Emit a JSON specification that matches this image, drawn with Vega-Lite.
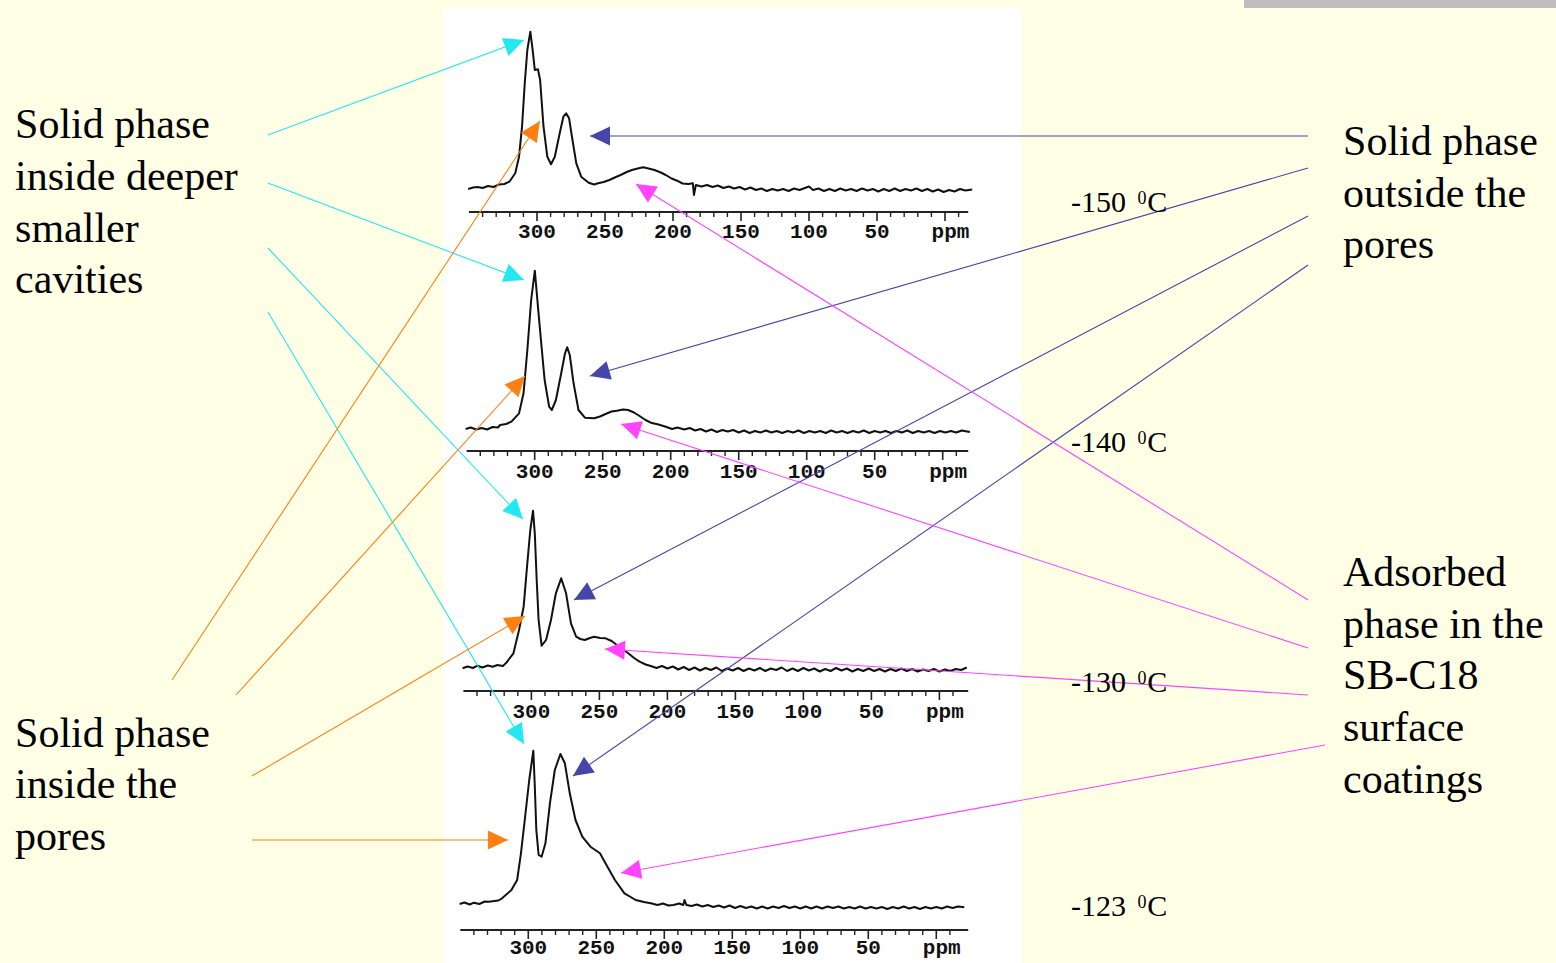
{
  "$schema": "https://vega.github.io/schema/vega-lite/v6.json",
  "width": 1556,
  "height": 963,
  "autosize": {"type": "fit", "contains": "padding"},
  "padding": 0,
  "background": "#FFFFE6",
  "config": {"view": {"stroke": null}},
  "datasets": {
    "spec": [
      {"t":"-150","p":350.6,"s":774},{"t":"-150","p":347,"s":775.5},{"t":"-150","p":343.7,"s":776},{"t":"-150","p":340,"s":775},{"t":"-150","p":336,"s":777},{"t":"-150","p":332,"s":776},{"t":"-150","p":328,"s":778.5},{"t":"-150","p":324,"s":779},{"t":"-150","p":320.3,"s":781.3},{"t":"-150","p":316,"s":789.7},{"t":"-150","p":313.2,"s":806.3},{"t":"-150","p":311,"s":836.3},{"t":"-150","p":309,"s":879.7},{"t":"-150","p":307.1,"s":913},{"t":"-150","p":304.9,"s":931.3},{"t":"-150","p":303.2,"s":913},{"t":"-150","p":301.6,"s":893},{"t":"-150","p":299.3,"s":893.7},{"t":"-150","p":297.7,"s":883},{"t":"-150","p":295.2,"s":836.3},{"t":"-150","p":292.4,"s":806.3},{"t":"-150","p":289.7,"s":798.7},{"t":"-150","p":286.9,"s":806.3},{"t":"-150","p":283.3,"s":829.7},{"t":"-150","p":280.6,"s":846.3},{"t":"-150","p":278.6,"s":849.7},{"t":"-150","p":276.4,"s":844.7},{"t":"-150","p":273.9,"s":823},{"t":"-150","p":271.1,"s":799.7},{"t":"-150","p":267.5,"s":786.3},{"t":"-150","p":262,"s":780.3},{"t":"-150","p":258,"s":778.5},{"t":"-150","p":255.1,"s":779.7},{"t":"-150","p":251,"s":781},{"t":"-150","p":246.8,"s":783},{"t":"-150","p":242,"s":786},{"t":"-150","p":238.5,"s":788},{"t":"-150","p":234,"s":791},{"t":"-150","p":230.2,"s":793},{"t":"-150","p":226,"s":794.5},{"t":"-150","p":221.9,"s":795.7},{"t":"-150","p":218,"s":794.5},{"t":"-150","p":213.6,"s":793},{"t":"-150","p":209,"s":790.5},{"t":"-150","p":205.3,"s":788},{"t":"-150","p":201,"s":784.5},{"t":"-150","p":197,"s":782.3},{"t":"-150","p":193,"s":779.5},{"t":"-150","p":188.7,"s":779},{"t":"-150","p":185.4,"s":779.7},{"t":"-150","p":184.6,"s":768},{"t":"-150","p":183.2,"s":778},{"t":"-150","p":179,"s":776.5},{"t":"-150","p":175,"s":778},{"t":"-150","p":171,"s":776},{"t":"-150","p":167,"s":777.5},{"t":"-150","p":163,"s":775},{"t":"-150","p":159,"s":776.5},{"t":"-150","p":155,"s":774.5},{"t":"-150","p":151,"s":776},{"t":"-150","p":147,"s":773.5},{"t":"-150","p":143,"s":775.5},{"t":"-150","p":139,"s":773},{"t":"-150","p":135,"s":774.5},{"t":"-150","p":131,"s":772},{"t":"-150","p":127,"s":774},{"t":"-150","p":123,"s":772.5},{"t":"-150","p":119,"s":774},{"t":"-150","p":115,"s":772},{"t":"-150","p":111,"s":774.5},{"t":"-150","p":107,"s":773},{"t":"-150","p":103,"s":775},{"t":"-150","p":100,"s":776.5},{"t":"-150","p":97,"s":773},{"t":"-150","p":93,"s":774.5},{"t":"-150","p":89,"s":772},{"t":"-150","p":85,"s":774},{"t":"-150","p":81,"s":772},{"t":"-150","p":77,"s":774.5},{"t":"-150","p":73,"s":772.5},{"t":"-150","p":69,"s":774},{"t":"-150","p":65,"s":772},{"t":"-150","p":61,"s":774.5},{"t":"-150","p":57,"s":772.5},{"t":"-150","p":53,"s":774},{"t":"-150","p":49,"s":771.5},{"t":"-150","p":45,"s":774},{"t":"-150","p":41,"s":772},{"t":"-150","p":37,"s":774.5},{"t":"-150","p":33,"s":772},{"t":"-150","p":29,"s":774},{"t":"-150","p":25,"s":772.5},{"t":"-150","p":21,"s":774.5},{"t":"-150","p":17,"s":772},{"t":"-150","p":13,"s":774},{"t":"-150","p":9,"s":771.5},{"t":"-150","p":5,"s":773.5},{"t":"-150","p":1,"s":771},{"t":"-150","p":-3,"s":773},{"t":"-150","p":-7,"s":771.5},{"t":"-150","p":-11,"s":774},{"t":"-150","p":-15,"s":772.5},{"t":"-150","p":-20,"s":773.5},

      {"t":"-140","p":350.8,"s":534},{"t":"-140","p":347,"s":535.5},{"t":"-140","p":343,"s":533.5},{"t":"-140","p":339,"s":535},{"t":"-140","p":335,"s":533.5},{"t":"-140","p":331,"s":536},{"t":"-140","p":327,"s":535.5},{"t":"-140","p":325.4,"s":538},{"t":"-140","p":321,"s":539},{"t":"-140","p":317.1,"s":541.3},{"t":"-140","p":311.5,"s":549.7},{"t":"-140","p":308.2,"s":569.7},{"t":"-140","p":305.4,"s":613},{"t":"-140","p":302.6,"s":663},{"t":"-140","p":299.9,"s":692.3},{"t":"-140","p":297.6,"s":656.3},{"t":"-140","p":295.4,"s":623},{"t":"-140","p":292.7,"s":583},{"t":"-140","p":289.4,"s":556.3},{"t":"-140","p":287.4,"s":553},{"t":"-140","p":284.4,"s":563},{"t":"-140","p":280.5,"s":589.7},{"t":"-140","p":277.7,"s":609.7},{"t":"-140","p":276.1,"s":615.7},{"t":"-140","p":274.2,"s":608},{"t":"-140","p":271.4,"s":579.7},{"t":"-140","p":267.8,"s":553},{"t":"-140","p":263.1,"s":545.3},{"t":"-140","p":256.2,"s":544.7},{"t":"-140","p":252,"s":546.5},{"t":"-140","p":247.9,"s":549},{"t":"-140","p":243.5,"s":551.5},{"t":"-140","p":239.6,"s":552.3},{"t":"-140","p":235,"s":553.5},{"t":"-140","p":231.3,"s":553},{"t":"-140","p":227,"s":550.5},{"t":"-140","p":222.9,"s":547},{"t":"-140","p":218.5,"s":543},{"t":"-140","p":214.6,"s":540.3},{"t":"-140","p":209,"s":538.5},{"t":"-140","p":203.6,"s":536.3},{"t":"-140","p":199,"s":534},{"t":"-140","p":195,"s":535.5},{"t":"-140","p":190,"s":533.5},{"t":"-140","p":186,"s":535},{"t":"-140","p":182,"s":532.5},{"t":"-140","p":178,"s":534},{"t":"-140","p":174,"s":531.5},{"t":"-140","p":170,"s":533.5},{"t":"-140","p":166,"s":531},{"t":"-140","p":162,"s":533},{"t":"-140","p":158,"s":531.5},{"t":"-140","p":154,"s":533},{"t":"-140","p":150,"s":530.5},{"t":"-140","p":146,"s":532.5},{"t":"-140","p":142,"s":530},{"t":"-140","p":138,"s":532},{"t":"-140","p":134,"s":530.5},{"t":"-140","p":130,"s":532.5},{"t":"-140","p":126,"s":530.5},{"t":"-140","p":122,"s":532},{"t":"-140","p":118,"s":530},{"t":"-140","p":114,"s":532},{"t":"-140","p":110,"s":530.5},{"t":"-140","p":106,"s":532.5},{"t":"-140","p":102,"s":530},{"t":"-140","p":98,"s":532},{"t":"-140","p":94,"s":530.5},{"t":"-140","p":90,"s":532},{"t":"-140","p":86,"s":530},{"t":"-140","p":82,"s":532.5},{"t":"-140","p":78,"s":530.5},{"t":"-140","p":74,"s":532},{"t":"-140","p":70,"s":530},{"t":"-140","p":66,"s":532},{"t":"-140","p":62,"s":530.5},{"t":"-140","p":58,"s":532.5},{"t":"-140","p":54,"s":530},{"t":"-140","p":50,"s":532},{"t":"-140","p":46,"s":530.5},{"t":"-140","p":42,"s":532},{"t":"-140","p":38,"s":530},{"t":"-140","p":34,"s":532},{"t":"-140","p":30,"s":530.5},{"t":"-140","p":26,"s":532.5},{"t":"-140","p":22,"s":530},{"t":"-140","p":18,"s":532},{"t":"-140","p":14,"s":530.5},{"t":"-140","p":10,"s":532},{"t":"-140","p":6,"s":530},{"t":"-140","p":2,"s":532},{"t":"-140","p":-2,"s":530.5},{"t":"-140","p":-6,"s":532},{"t":"-140","p":-10,"s":530.5},{"t":"-140","p":-14,"s":532.5},{"t":"-140","p":-20,"s":531},

      {"t":"-130","p":350.6,"s":294.7},{"t":"-130","p":347,"s":296.5},{"t":"-130","p":343,"s":295},{"t":"-130","p":339.6,"s":297.3},{"t":"-130","p":336,"s":295.5},{"t":"-130","p":332,"s":297.5},{"t":"-130","p":328.5,"s":296.3},{"t":"-130","p":325,"s":298},{"t":"-130","p":321,"s":297},{"t":"-130","p":318.8,"s":299.7},{"t":"-130","p":313.2,"s":309.7},{"t":"-130","p":309.1,"s":333},{"t":"-130","p":305.7,"s":356.3},{"t":"-130","p":303,"s":399.7},{"t":"-130","p":300.8,"s":433},{"t":"-130","p":298.8,"s":452.3},{"t":"-130","p":297.5,"s":429.7},{"t":"-130","p":296.1,"s":383},{"t":"-130","p":294.7,"s":343},{"t":"-130","p":292.5,"s":317.3},{"t":"-130","p":289.2,"s":323},{"t":"-130","p":285.6,"s":343},{"t":"-130","p":282,"s":369.7},{"t":"-130","p":278.1,"s":384.7},{"t":"-130","p":274.5,"s":369.7},{"t":"-130","p":270.9,"s":339.7},{"t":"-130","p":267.1,"s":326.3},{"t":"-130","p":264,"s":324},{"t":"-130","p":260.7,"s":323},{"t":"-130","p":257,"s":325},{"t":"-130","p":253.8,"s":326.3},{"t":"-130","p":249.5,"s":325},{"t":"-130","p":245.4,"s":324.7},{"t":"-130","p":241,"s":322},{"t":"-130","p":237.1,"s":318},{"t":"-130","p":233,"s":314},{"t":"-130","p":228.8,"s":309.7},{"t":"-130","p":224.5,"s":305},{"t":"-130","p":220.5,"s":301.3},{"t":"-130","p":216,"s":298.5},{"t":"-130","p":212.2,"s":297},{"t":"-130","p":208,"s":295},{"t":"-130","p":204,"s":297},{"t":"-130","p":200,"s":294.5},{"t":"-130","p":196,"s":296.5},{"t":"-130","p":192,"s":293.5},{"t":"-130","p":188,"s":296},{"t":"-130","p":184,"s":293},{"t":"-130","p":180,"s":295.5},{"t":"-130","p":176,"s":292.5},{"t":"-130","p":172,"s":295},{"t":"-130","p":168,"s":293},{"t":"-130","p":164,"s":295.5},{"t":"-130","p":160,"s":292},{"t":"-130","p":156,"s":294.5},{"t":"-130","p":152,"s":292.5},{"t":"-130","p":148,"s":295},{"t":"-130","p":144,"s":292},{"t":"-130","p":140,"s":294.5},{"t":"-130","p":136,"s":292.5},{"t":"-130","p":132,"s":295},{"t":"-130","p":128,"s":292},{"t":"-130","p":124,"s":294.5},{"t":"-130","p":120,"s":293},{"t":"-130","p":116,"s":295.5},{"t":"-130","p":112,"s":292},{"t":"-130","p":108,"s":294.5},{"t":"-130","p":104,"s":292},{"t":"-130","p":100,"s":295},{"t":"-130","p":96,"s":292.5},{"t":"-130","p":92,"s":294.5},{"t":"-130","p":88,"s":291.5},{"t":"-130","p":84,"s":294},{"t":"-130","p":80,"s":292},{"t":"-130","p":76,"s":295},{"t":"-130","p":72,"s":292.5},{"t":"-130","p":68,"s":294.5},{"t":"-130","p":64,"s":291.5},{"t":"-130","p":60,"s":294},{"t":"-130","p":56,"s":292},{"t":"-130","p":52,"s":294.5},{"t":"-130","p":48,"s":292},{"t":"-130","p":44,"s":294},{"t":"-130","p":40,"s":291.5},{"t":"-130","p":36,"s":294},{"t":"-130","p":32,"s":292},{"t":"-130","p":28,"s":294.5},{"t":"-130","p":24,"s":292},{"t":"-130","p":20,"s":294},{"t":"-130","p":16,"s":291.5},{"t":"-130","p":12,"s":293.5},{"t":"-130","p":8,"s":292},{"t":"-130","p":4,"s":294},{"t":"-130","p":0,"s":291.5},{"t":"-130","p":-4,"s":293.5},{"t":"-130","p":-8,"s":292},{"t":"-130","p":-12,"s":294},{"t":"-130","p":-16,"s":293},{"t":"-130","p":-20.1,"s":295.5},

      {"t":"-123","p":350.5,"s":59},{"t":"-123","p":347,"s":60.5},{"t":"-123","p":343,"s":58.5},{"t":"-123","p":340,"s":60.3},{"t":"-123","p":336,"s":59},{"t":"-123","p":332,"s":61.5},{"t":"-123","p":329,"s":61.3},{"t":"-123","p":325,"s":62},{"t":"-123","p":322,"s":62.5},{"t":"-123","p":319.3,"s":64.7},{"t":"-123","p":312.4,"s":73},{"t":"-123","p":308.2,"s":83},{"t":"-123","p":305.4,"s":109.7},{"t":"-123","p":302.6,"s":143},{"t":"-123","p":299.3,"s":183},{"t":"-123","p":296.3,"s":212.3},{"t":"-123","p":295.2,"s":176.3},{"t":"-123","p":294.1,"s":133},{"t":"-123","p":292.4,"s":108},{"t":"-123","p":290.2,"s":106.3},{"t":"-123","p":287.4,"s":119.7},{"t":"-123","p":284.1,"s":159.7},{"t":"-123","p":280.5,"s":193},{"t":"-123","p":276.4,"s":209},{"t":"-123","p":273.1,"s":199.7},{"t":"-123","p":269.5,"s":169.7},{"t":"-123","p":265.3,"s":143},{"t":"-123","p":260.3,"s":126.3},{"t":"-123","p":254.3,"s":116.3},{"t":"-123","p":247.3,"s":109.7},{"t":"-123","p":241.8,"s":96.3},{"t":"-123","p":236.3,"s":83},{"t":"-123","p":229.3,"s":69.7},{"t":"-123","p":221,"s":63},{"t":"-123","p":215,"s":61},{"t":"-123","p":209.9,"s":59.7},{"t":"-123","p":205,"s":58},{"t":"-123","p":201,"s":59.5},{"t":"-123","p":197,"s":57.5},{"t":"-123","p":193.4,"s":58},{"t":"-123","p":189,"s":59.5},{"t":"-123","p":186,"s":58},{"t":"-123","p":185.1,"s":63},{"t":"-123","p":183.7,"s":58},{"t":"-123","p":180,"s":57},{"t":"-123","p":176,"s":58.5},{"t":"-123","p":172,"s":56.5},{"t":"-123","p":168,"s":58},{"t":"-123","p":164,"s":56},{"t":"-123","p":160,"s":57.5},{"t":"-123","p":156,"s":55.5},{"t":"-123","p":152,"s":57.5},{"t":"-123","p":148,"s":55},{"t":"-123","p":144,"s":57},{"t":"-123","p":140,"s":55},{"t":"-123","p":136,"s":56.5},{"t":"-123","p":132,"s":54.5},{"t":"-123","p":128,"s":56.5},{"t":"-123","p":124,"s":54.5},{"t":"-123","p":120,"s":56.5},{"t":"-123","p":116,"s":55},{"t":"-123","p":112,"s":57},{"t":"-123","p":108,"s":55},{"t":"-123","p":104,"s":56.5},{"t":"-123","p":100,"s":54.5},{"t":"-123","p":96,"s":56.5},{"t":"-123","p":92,"s":54.5},{"t":"-123","p":88,"s":56.5},{"t":"-123","p":84,"s":54.5},{"t":"-123","p":80,"s":56.5},{"t":"-123","p":76,"s":55},{"t":"-123","p":72,"s":56.5},{"t":"-123","p":68,"s":54.5},{"t":"-123","p":64,"s":56},{"t":"-123","p":60,"s":54.5},{"t":"-123","p":56,"s":56.5},{"t":"-123","p":52,"s":54.5},{"t":"-123","p":48,"s":56},{"t":"-123","p":44,"s":54.5},{"t":"-123","p":40,"s":56},{"t":"-123","p":36,"s":54},{"t":"-123","p":32,"s":56},{"t":"-123","p":28,"s":54.5},{"t":"-123","p":24,"s":56.5},{"t":"-123","p":20,"s":54.5},{"t":"-123","p":16,"s":56},{"t":"-123","p":12,"s":54},{"t":"-123","p":8,"s":56},{"t":"-123","p":4,"s":54.5},{"t":"-123","p":0,"s":56},{"t":"-123","p":-4,"s":54.5},{"t":"-123","p":-8,"s":56.5},{"t":"-123","p":-12,"s":55},{"t":"-123","p":-16,"s":56.5},{"t":"-123","p":-20.6,"s":55.7}
    ],
    "major": [{"p":300},{"p":250},{"p":200},{"p":150},{"p":100},{"p":50},{"p":0}],
    "minor": [{"p":340},{"p":330},{"p":320},{"p":310},{"p":290},{"p":280},{"p":270},{"p":260},{"p":240},{"p":230},{"p":220},{"p":210},{"p":190},{"p":180},{"p":170},{"p":160},{"p":140},{"p":130},{"p":120},{"p":110},{"p":90},{"p":80},{"p":70},{"p":60},{"p":40},{"p":30},{"p":20},{"p":10},{"p":-10}],
    "lab": [{"p":300,"t":"300"},{"p":250,"t":"250"},{"p":200,"t":"200"},{"p":150,"t":"150"},{"p":100,"t":"100"},{"p":50,"t":"50"},{"p":-4,"t":"ppm"}],
    "arrows": [
      {"g":"deeper cavities","p0":494.9,"s0":828,"p1":306.6,"s1":923,"a":69.6},
      {"g":"deeper cavities","p0":494.9,"s0":780,"p1":306.6,"s1":683,"a":110.8},
      {"g":"deeper cavities","p0":494.9,"s0":715,"p1":307.4,"s1":444,"a":136.7},
      {"g":"deeper cavities","p0":494.9,"s0":651,"p1":306.6,"s1":219,"a":149.4},
      {"g":"inside pores","p0":565.4,"s0":283,"p1":294.9,"s1":842,"a":33.4},
      {"g":"inside pores","p0":518.4,"s0":268,"p1":305.9,"s1":587,"a":42.2},
      {"g":"inside pores","p0":506.6,"s0":187,"p1":305.9,"s1":347,"a":59.6},
      {"g":"inside pores","p0":506.6,"s0":123,"p1":318.4,"s1":123,"a":90},
      {"g":"outside pores","p0":-269.9,"s0":827,"p1":258.1,"s1":827,"a":-90},
      {"g":"outside pores","p0":-269.9,"s0":795,"p1":258.1,"s1":587,"a":-106.2},
      {"g":"outside pores","p0":-269.9,"s0":747,"p1":269.9,"s1":363,"a":-117.6},
      {"g":"outside pores","p0":-269.9,"s0":698,"p1":270.6,"s1":187,"a":-124.8},
      {"g":"adsorbed","p0":-269.9,"s0":363,"p1":224.3,"s1":779,"a":-58.2},
      {"g":"adsorbed","p0":-269.9,"s0":315,"p1":235.3,"s1":539,"a":-71.9},
      {"g":"adsorbed","p0":-269.9,"s0":268,"p1":247.1,"s1":314,"a":-86.3},
      {"g":"adsorbed","p0":-282.4,"s0":218,"p1":235.3,"s1":90,"a":-100.3}
    ],
    "notes": [
      {"t":"Solid phase","p":680.8,"s":825},{"t":"inside deeper","p":680.8,"s":773},{"t":"smaller","p":680.8,"s":721},{"t":"cavities","p":680.8,"s":670},
      {"t":"Solid phase","p":680.8,"s":216},{"t":"inside the","p":680.8,"s":165},{"t":"pores","p":680.8,"s":113},
      {"t":"Solid phase","p":-295.6,"s":808},{"t":"outside the","p":-295.6,"s":756},{"t":"pores","p":-295.6,"s":705},
      {"t":"Adsorbed","p":-295.6,"s":377},{"t":"phase in the","p":-295.6,"s":325},{"t":"SB-C18","p":-295.6,"s":274},{"t":"surface","p":-295.6,"s":222},{"t":"coatings","p":-295.6,"s":170}
    ],
    "temps": [
      {"t":"-150","p":-95.6,"s":751},{"t":"C","p":-151.7,"s":751},
      {"t":"-140","p":-95.6,"s":511},{"t":"C","p":-151.7,"s":511},
      {"t":"-130","p":-95.6,"s":271},{"t":"C","p":-151.7,"s":271},
      {"t":"-123","p":-95.6,"s":47},{"t":"C","p":-151.7,"s":47}
    ],
    "sups": [
      {"t":"0","p":-144.5,"s":759},{"t":"0","p":-144.5,"s":519},{"t":"0","p":-144.5,"s":279},{"t":"0","p":-144.5,"s":55}
    ]
  },
  "layer": [
    {
      "data": {"values": [{}]},
      "mark": {"type": "rect", "color": "#FFFFFF"},
      "encoding": {
        "x": {"datum": 366.2, "type": "quantitative", "scale": {"domain": [-452.2, 691.9], "reverse": true, "nice": false, "zero": false}, "axis": null},
        "x2": {"datum": -58.8},
        "y": {"datum": 0, "type": "quantitative", "scale": {"domain": [0, 963], "nice": false, "zero": false}, "axis": null},
        "y2": {"datum": 955}
      }
    },
    {
      "data": {"values": [{}]},
      "mark": {"type": "rect", "color": "#BEBEBE"},
      "encoding": {
        "x": {"datum": -222.8, "type": "quantitative", "axis": null},
        "x2": {"datum": -452.2},
        "y": {"datum": 955, "type": "quantitative", "axis": null},
        "y2": {"datum": 963}
      }
    },
    {
      "layer": [
        {"data": {"name": "spec"}, "transform": [{"filter": "datum.t == '-150'"}],
         "mark": {"type": "line", "color": "#111111", "strokeWidth": 2, "strokeJoin": "round", "xOffset": 4},
         "encoding": {"x": {"field": "p", "type": "quantitative", "axis": null}, "y": {"field": "s", "type": "quantitative", "axis": null}}},
        {"data": {"values": [{}]}, "mark": {"type": "rule", "color": "#222222", "strokeWidth": 2, "xOffset": 4},
         "encoding": {"x": {"datum": 350, "type": "quantitative", "axis": null}, "x2": {"datum": -20}, "y": {"datum": 751, "type": "quantitative", "axis": null}}},
        {"data": {"name": "major"}, "mark": {"type": "rule", "color": "#222222", "strokeWidth": 1.6, "xOffset": 4},
         "encoding": {"x": {"field": "p", "type": "quantitative", "axis": null}, "y": {"datum": 751, "type": "quantitative", "axis": null}, "y2": {"datum": 742}}},
        {"data": {"name": "minor"}, "mark": {"type": "rule", "color": "#222222", "strokeWidth": 1.4, "xOffset": 4},
         "encoding": {"x": {"field": "p", "type": "quantitative", "axis": null}, "y": {"datum": 751, "type": "quantitative", "axis": null}, "y2": {"datum": 746}}},
        {"data": {"name": "lab"}, "mark": {"type": "text", "font": "Liberation Mono", "fontWeight": "bold", "fontSize": 21, "color": "#111111", "align": "center", "baseline": "middle", "xOffset": 4},
         "encoding": {"x": {"field": "p", "type": "quantitative", "axis": null}, "y": {"datum": 731, "type": "quantitative", "axis": null}, "text": {"field": "t"}}}
      ]
    },
    {
      "layer": [
        {"data": {"name": "spec"}, "transform": [{"filter": "datum.t == '-140'"}],
         "mark": {"type": "line", "color": "#111111", "strokeWidth": 2, "strokeJoin": "round", "xOffset": 1.7},
         "encoding": {"x": {"field": "p", "type": "quantitative", "axis": null}, "y": {"field": "s", "type": "quantitative", "axis": null}}},
        {"data": {"values": [{}]}, "mark": {"type": "rule", "color": "#222222", "strokeWidth": 2, "xOffset": 1.7},
         "encoding": {"x": {"datum": 350, "type": "quantitative", "axis": null}, "x2": {"datum": -20}, "y": {"datum": 512, "type": "quantitative", "axis": null}}},
        {"data": {"name": "major"}, "mark": {"type": "rule", "color": "#222222", "strokeWidth": 1.6, "xOffset": 1.7},
         "encoding": {"x": {"field": "p", "type": "quantitative", "axis": null}, "y": {"datum": 512, "type": "quantitative", "axis": null}, "y2": {"datum": 503}}},
        {"data": {"name": "minor"}, "mark": {"type": "rule", "color": "#222222", "strokeWidth": 1.4, "xOffset": 1.7},
         "encoding": {"x": {"field": "p", "type": "quantitative", "axis": null}, "y": {"datum": 512, "type": "quantitative", "axis": null}, "y2": {"datum": 507}}},
        {"data": {"name": "lab"}, "mark": {"type": "text", "font": "Liberation Mono", "fontWeight": "bold", "fontSize": 21, "color": "#111111", "align": "center", "baseline": "middle", "xOffset": 1.7},
         "encoding": {"x": {"field": "p", "type": "quantitative", "axis": null}, "y": {"datum": 491, "type": "quantitative", "axis": null}, "text": {"field": "t"}}}
      ]
    },
    {
      "layer": [
        {"data": {"name": "spec"}, "transform": [{"filter": "datum.t == '-130'"}],
         "mark": {"type": "line", "color": "#111111", "strokeWidth": 2, "strokeJoin": "round", "xOffset": -1.6},
         "encoding": {"x": {"field": "p", "type": "quantitative", "axis": null}, "y": {"field": "s", "type": "quantitative", "axis": null}}},
        {"data": {"values": [{}]}, "mark": {"type": "rule", "color": "#222222", "strokeWidth": 2, "xOffset": -1.6},
         "encoding": {"x": {"datum": 350, "type": "quantitative", "axis": null}, "x2": {"datum": -20}, "y": {"datum": 272, "type": "quantitative", "axis": null}}},
        {"data": {"name": "major"}, "mark": {"type": "rule", "color": "#222222", "strokeWidth": 1.6, "xOffset": -1.6},
         "encoding": {"x": {"field": "p", "type": "quantitative", "axis": null}, "y": {"datum": 272, "type": "quantitative", "axis": null}, "y2": {"datum": 263}}},
        {"data": {"name": "minor"}, "mark": {"type": "rule", "color": "#222222", "strokeWidth": 1.4, "xOffset": -1.6},
         "encoding": {"x": {"field": "p", "type": "quantitative", "axis": null}, "y": {"datum": 272, "type": "quantitative", "axis": null}, "y2": {"datum": 267}}},
        {"data": {"name": "lab"}, "mark": {"type": "text", "font": "Liberation Mono", "fontWeight": "bold", "fontSize": 21, "color": "#111111", "align": "center", "baseline": "middle", "xOffset": -1.6},
         "encoding": {"x": {"field": "p", "type": "quantitative", "axis": null}, "y": {"datum": 251, "type": "quantitative", "axis": null}, "text": {"field": "t"}}}
      ]
    },
    {
      "layer": [
        {"data": {"name": "spec"}, "transform": [{"filter": "datum.t == '-123'"}],
         "mark": {"type": "line", "color": "#111111", "strokeWidth": 2, "strokeJoin": "round", "xOffset": -4.7},
         "encoding": {"x": {"field": "p", "type": "quantitative", "axis": null}, "y": {"field": "s", "type": "quantitative", "axis": null}}},
        {"data": {"values": [{}]}, "mark": {"type": "rule", "color": "#222222", "strokeWidth": 2, "xOffset": -4.7},
         "encoding": {"x": {"datum": 350, "type": "quantitative", "axis": null}, "x2": {"datum": -20}, "y": {"datum": 33, "type": "quantitative", "axis": null}}},
        {"data": {"name": "major"}, "mark": {"type": "rule", "color": "#222222", "strokeWidth": 1.6, "xOffset": -4.7},
         "encoding": {"x": {"field": "p", "type": "quantitative", "axis": null}, "y": {"datum": 33, "type": "quantitative", "axis": null}, "y2": {"datum": 24}}},
        {"data": {"name": "minor"}, "mark": {"type": "rule", "color": "#222222", "strokeWidth": 1.4, "xOffset": -4.7},
         "encoding": {"x": {"field": "p", "type": "quantitative", "axis": null}, "y": {"datum": 33, "type": "quantitative", "axis": null}, "y2": {"datum": 28}}},
        {"data": {"name": "lab"}, "mark": {"type": "text", "font": "Liberation Mono", "fontWeight": "bold", "fontSize": 21, "color": "#111111", "align": "center", "baseline": "middle", "xOffset": -4.7},
         "encoding": {"x": {"field": "p", "type": "quantitative", "axis": null}, "y": {"datum": 15, "type": "quantitative", "axis": null}, "text": {"field": "t"}}}
      ]
    },
    {
      "data": {"name": "arrows"},
      "mark": {"type": "rule", "strokeWidth": 1.1},
      "encoding": {
        "x": {"field": "p0", "type": "quantitative", "axis": null},
        "y": {"field": "s0", "type": "quantitative", "axis": null},
        "x2": {"field": "p1"},
        "y2": {"field": "s1"},
        "color": {"field": "g", "type": "nominal", "legend": null,
          "scale": {"domain": ["deeper cavities", "inside pores", "outside pores", "adsorbed"], "range": ["#22E8F2", "#FF8012", "#4646AA", "#FF44FF"]}}
      }
    },
    {
      "data": {"name": "arrows"},
      "mark": {"type": "point", "shape": "M0,0L-0.95,2L0.95,2Z", "filled": true, "opacity": 1, "size": 400, "strokeWidth": 0},
      "encoding": {
        "x": {"field": "p1", "type": "quantitative", "axis": null},
        "y": {"field": "s1", "type": "quantitative", "axis": null},
        "angle": {"field": "a", "type": "quantitative", "scale": null},
        "color": {"field": "g", "type": "nominal", "legend": null}
      }
    },
    {
      "data": {"name": "notes"},
      "mark": {"type": "text", "font": "Liberation Serif", "fontSize": 42, "color": "#000000", "align": "left", "baseline": "alphabetic"},
      "encoding": {
        "x": {"field": "p", "type": "quantitative", "axis": null},
        "y": {"field": "s", "type": "quantitative", "axis": null},
        "text": {"field": "t"}
      }
    },
    {
      "data": {"name": "temps"},
      "mark": {"type": "text", "font": "Liberation Serif", "fontSize": 30, "color": "#000000", "align": "left", "baseline": "alphabetic"},
      "encoding": {
        "x": {"field": "p", "type": "quantitative", "axis": null},
        "y": {"field": "s", "type": "quantitative", "axis": null},
        "text": {"field": "t"}
      }
    },
    {
      "data": {"name": "sups"},
      "mark": {"type": "text", "font": "Liberation Serif", "fontSize": 18, "color": "#000000", "align": "left", "baseline": "alphabetic"},
      "encoding": {
        "x": {"field": "p", "type": "quantitative", "axis": null},
        "y": {"field": "s", "type": "quantitative", "axis": null},
        "text": {"field": "t"}
      }
    }
  ]
}
